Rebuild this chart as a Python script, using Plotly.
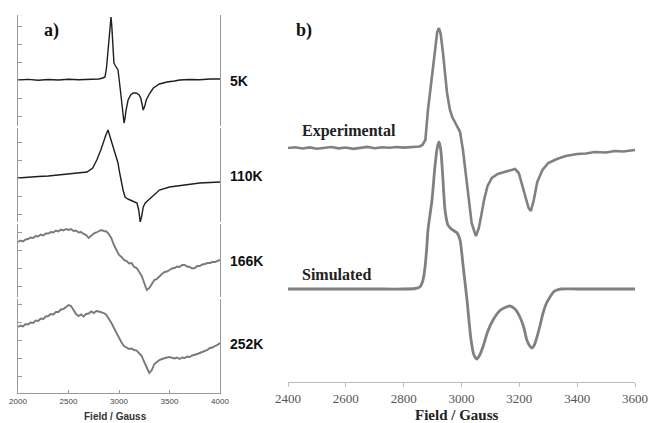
import plotly.graph_objects as go

W, H = 649, 423
PAGE_OFFSET = 0  # body margin is removed by the post script below

# ---------------- Panel a data (field in Gauss, signal in arbitrary units) ----------------
field_5k = [2000, 2100, 2200, 2300, 2400, 2500, 2600, 2700, 2800, 2840, 2861, 2876, 2891, 2905, 2914,
            2921, 2928, 2935, 2941, 2950, 2960, 2975, 2990, 3000, 3010, 3020, 3030, 3040, 3050, 3060,
            3070, 3090, 3115, 3140, 3170, 3200, 3215, 3228, 3240, 3255, 3270, 3300, 3340, 3400, 3475,
            3550, 3600, 3700, 3800, 3900, 4000]
sig_5k = [0, 0.6, -0.3, 0.5, 0, 0.7, 0.2, 0.5, 1, 2, 3, 12, 30, 50, 60,
          63, 55, 38, 22, 17, 15, 12, 10, 2, -7, -20, -30, -38, -43, -38,
          -30, -20, -15, -13, -13, -15, -18, -24, -30, -26, -20, -14, -8, -4, -2,
          -1, 0, 0.5, 0.3, 1, 1]

field_110k = [2000, 2100, 2200, 2300, 2400, 2500, 2600, 2683, 2740, 2780, 2820, 2842, 2870, 2891,
              2910, 2941, 2970, 2990, 3005, 3020, 3040, 3060, 3085, 3110, 3150, 3178, 3195, 3210,
              3225, 3240, 3260, 3290, 3340, 3400, 3500, 3640, 3800, 3900, 4000]
sig_110k = [0, 1, 1.5, 2, 3, 3.5, 5, 6, 10, 18, 28, 35, 43, 48,
            42, 31, 22, 15, 6, -2, -12, -19, -21, -22, -24, -25, -32, -44,
            -38, -29, -25, -22, -17, -12, -9, -7, -5, -4.5, -4]

field_166k = [2000, 2025, 2050, 2075, 2100, 2125, 2150, 2175, 2200, 2225, 2250, 2275, 2300, 2325,
              2350, 2375, 2400, 2425, 2450, 2475, 2500, 2525, 2550, 2575, 2600, 2625, 2650, 2675,
              2700, 2725, 2750, 2775, 2800, 2825, 2850, 2875, 2900, 2925, 2950, 2975, 3000, 3025,
              3050, 3075, 3100, 3125, 3150, 3175, 3200, 3225, 3250, 3275, 3300, 3325, 3350, 3375,
              3400, 3425, 3450, 3475, 3500, 3525, 3550, 3575, 3600, 3625, 3650, 3675, 3700, 3725,
              3750, 3775, 3800, 3825, 3850, 3875, 3900, 3925, 3950, 3975, 4000]
sig_166k = [8, 9.5, 8.5, 10.5, 11, 12.5, 12, 14, 13.5, 15.5, 14.5, 16.5, 16.5, 18,
            17.5, 19.5, 18.5, 20.5, 19.5, 21, 20, 21, 19, 19.5, 17.5, 18, 16, 15,
            12, 14, 16.5, 17.5, 19, 20, 19, 18.5, 16, 11.5, 5, 0, -5, -7,
            -10, -11, -13.5, -13, -17, -18, -22, -26, -33, -40, -38, -34, -30, -29,
            -26, -24, -22, -21.5, -20, -18.5, -18, -16.5, -17, -15, -15, -16.5, -17, -18.5,
            -18, -16, -16, -14.5, -14, -13, -13, -12, -12, -11, -10]

field_252k = [2000, 2025, 2050, 2075, 2100, 2125, 2150, 2175, 2200, 2225, 2250, 2275, 2300, 2325,
              2350, 2375, 2400, 2425, 2450, 2475, 2500, 2525, 2550, 2575, 2600, 2625, 2650, 2675,
              2700, 2725, 2750, 2775, 2800, 2825, 2850, 2875, 2900, 2925, 2950, 2975, 3000, 3025,
              3050, 3075, 3100, 3125, 3150, 3175, 3200, 3225, 3250, 3275, 3300, 3325, 3350, 3375,
              3400, 3425, 3450, 3475, 3500, 3525, 3550, 3575, 3600, 3625, 3650, 3675, 3700, 3725,
              3750, 3775, 3800, 3825, 3850, 3875, 3900, 3925, 3950, 3975, 4000]
sig_252k = [13, 14.5, 13.5, 16, 15.5, 17.5, 17, 19.5, 19, 21.5, 21, 23.5, 24, 26,
            25.5, 28, 28, 30.5, 31, 33.5, 35, 34, 30, 26, 24, 25.5, 23.5, 26,
            26.5, 28.5, 27, 29, 28.5, 28, 27, 25, 21.5, 17, 12, 7, 2, -2.5,
            -6, -7.5, -9, -8.5, -10, -10.5, -13, -16, -22, -27, -33, -30, -24, -22,
            -20, -19, -18, -17.5, -17, -18, -18.5, -17.5, -19, -17.5, -18, -16.5, -17, -15.5,
            -15, -14, -13, -12, -10.5, -10, -8, -7.5, -6, -5, -3]

labels_a = ["5K", "110K", "166K", "252K"]
ticks_a = [2000, 2500, 3000, 3500, 4000]

# ---------------- Panel b data ----------------
field_exp = [2400, 2425, 2450, 2475, 2500, 2525, 2550, 2575, 2600, 2625, 2650, 2675, 2700, 2725,
             2750, 2775, 2800, 2825, 2840, 2855, 2865, 2875, 2884, 2898, 2908, 2916, 2922, 2928,
             2936, 2943, 2950, 2960, 2968, 2977, 2985, 2995, 3005, 3015, 3025, 3035, 3045, 3050,
             3055, 3060, 3068, 3078, 3090, 3105, 3125, 3150, 3170, 3185, 3198, 3210, 3222, 3232,
             3240, 3250, 3262, 3280, 3300, 3330, 3360, 3400, 3430, 3460, 3500, 3530, 3560, 3600]
sig_exp = [0, 0.8, -0.5, 0.6, -0.8, 0.3, 1, -0.4, 0.5, -0.9, 0.4, 1.1, -0.3, 0.7,
           0.2, 1, 0.4, 0.9, 1.2, 1.5, 3, 8, 38, 75, 101, 116, 120, 114,
           95, 75, 55, 38, 31, 26, 22, 16, -2, -28, -55, -75, -84, -88,
           -84, -80, -68, -52, -38, -30, -26, -24, -22, -21, -25, -38, -52, -60,
           -63, -52, -34, -22, -15, -11, -8, -6, -5.5, -4, -4.5, -3, -3.5, -2]

field_sim = [2400, 2500, 2600, 2700, 2800, 2840, 2856, 2866, 2874, 2880, 2884, 2898, 2908, 2916,
             2922, 2928, 2934, 2943, 2953, 2965, 2975, 2985, 2995, 3006, 3019, 3033, 3043, 3053,
             3063, 3074, 3090, 3109, 3135, 3167, 3185, 3202, 3215, 3226, 3236, 3244, 3252, 3261,
             3272, 3282, 3294, 3306, 3318, 3330, 3345, 3400, 3500, 3600]
sig_sim = [0, 0, 0, 0, 0, 0.5, 2, 8, 22, 42, 59, 89, 122, 141,
           147, 140, 118, 79, 64, 60, 58, 56, 49, 22, -11, -51, -66, -70,
           -66, -58, -43, -31, -21, -17, -20, -28, -38, -51, -57, -59, -56, -48,
           -36, -24, -14, -8, -3, -1, 0, 0, 0, 0]

ticks_b = [2400, 2600, 2800, 3000, 3200, 3400, 3600]
EXP_OFFSET = 234
SIM_OFFSET = 93


def py(px):
    return 1 - (px - PAGE_OFFSET) / H


def pxx(px):
    return (px - PAGE_OFFSET) / W


fig = go.Figure()

# panel a sub-panels: (label, field, signal, colour, width, top_px, bottom_px, ref, label_y)
sub = [
    ("5K", field_5k, sig_5k, "#1e1e1e", 1.4, 15, 126, 80, 81),
    ("110K", field_110k, sig_110k, "#1e1e1e", 1.4, 128, 222, 178, 176),
    ("166K", field_166k, sig_166k, "#7a7a7a", 1.9, 224, 297, 250, 261),
    ("252K", field_252k, sig_252k, "#7a7a7a", 1.9, 299, 393, 340, 344),
]

for i, (lab, fx, sy, col, lw, top, bot, ref, ly) in enumerate(sub):
    yname = "y" if i == 0 else f"y{i+1}"
    fig.add_trace(go.Scatter(x=fx, y=sy, mode="lines", xaxis="x", yaxis=yname,
                             line=dict(color=col, width=lw), showlegend=False, hoverinfo="skip"))
    key = "yaxis" if i == 0 else f"yaxis{i+1}"
    fig.layout[key] = dict(domain=[py(bot), py(top)], range=[ref - bot, ref - top],
                           anchor="x", showline=True, mirror=True, linecolor="#9a9a9a",
                           linewidth=1, ticks="inside", ticklen=4, tickcolor="#9a9a9a",
                           dtick=18, tick0=0, showticklabels=False, showgrid=False,
                           zeroline=False, fixedrange=True, automargin=False)
    fig.add_annotation(text=f"<b>{lab}</b>", x=pxx(228), y=py(ly),
                       xref="paper", yref="paper", xanchor="left", yanchor="middle",
                       showarrow=False, font=dict(family="Liberation Sans, Arial", size=14, color="#111"))

fig.layout["xaxis"] = dict(domain=[pxx(18), pxx(220)], range=[2000, 4000], anchor="y4",
                           tickvals=ticks_a, ticktext=[str(t) for t in ticks_a],
                           showline=True, linecolor="#9a9a9a", ticks="inside", ticklen=3,
                           tickcolor="#9a9a9a", showgrid=False, zeroline=False, automargin=False,
                           ticklabeloverflow="allow",
                           tickfont=dict(family="Liberation Sans, Arial", size=8, color="#444"))

# panel b
fig.add_trace(go.Scatter(x=field_exp, y=[v + EXP_OFFSET for v in sig_exp], mode="lines",
                         xaxis="x2", yaxis="y5", line=dict(color="#808080", width=2.6),
                         showlegend=False, hoverinfo="skip"))
fig.add_trace(go.Scatter(x=field_sim, y=[v + SIM_OFFSET for v in sig_sim], mode="lines",
                         xaxis="x2", yaxis="y5", line=dict(color="#808080", width=2.8, shape="spline", smoothing=0.6),
                         showlegend=False, hoverinfo="skip"))

fig.layout["xaxis2"] = dict(domain=[pxx(288), pxx(635)], range=[2400, 3600], anchor="y5",
                            tickvals=ticks_b, showline=True, linecolor="#bdbdbd", ticks="outside",
                            ticklen=4, tickcolor="#bdbdbd", showgrid=False, zeroline=False, automargin=False,
                            ticklabeloverflow="allow",
                            tickfont=dict(family="Liberation Serif, Times New Roman", size=13, color="#555"))
fig.layout["yaxis5"] = dict(domain=[py(382), py(15)], range=[0, 367], anchor="x2",
                            visible=False, showgrid=False, zeroline=False, automargin=False)

# text annotations
texts = [
    ("<b>a)</b>", 42, 31, "Liberation Serif, Times New Roman", 18, "#111"),
    ("<b>b)</b>", 294, 31, "Liberation Serif, Times New Roman", 18, "#111"),
    ("<b>Experimental</b>", 300, 131, "Liberation Serif, Times New Roman", 16, "#222"),
    ("<b>Simulated</b>", 300, 274, "Liberation Serif, Times New Roman", 16, "#222"),
]
for t, x, y, fam, sz, col in texts:
    fig.add_annotation(text=t, x=pxx(x), y=py(y), xref="paper", yref="paper",
                       xanchor="left", yanchor="middle", showarrow=False,
                       font=dict(family=fam, size=sz, color=col))

fig.add_annotation(text="<b>Field / Gauss</b>", x=pxx(115), y=py(416), xref="paper", yref="paper",
                   xanchor="center", yanchor="middle", showarrow=False,
                   font=dict(family="Liberation Sans, Arial", size=10, color="#333"))
fig.add_annotation(text="<b>Field / Gauss</b>", x=pxx(457), y=py(415), xref="paper", yref="paper",
                   xanchor="center", yanchor="middle", showarrow=False,
                   font=dict(family="Liberation Serif, Times New Roman", size=15, color="#222"))

fig.update_layout(width=W, height=H, margin=dict(l=0, r=0, t=0, b=0, pad=0, autoexpand=False),
                  paper_bgcolor="white", plot_bgcolor="white", showlegend=False, hovermode=False)

fig.write_html("out.html", config={"displayModeBar": False, "staticPlot": True},
               post_script="document.body.style.margin='0px';document.body.style.overflow='hidden';")
